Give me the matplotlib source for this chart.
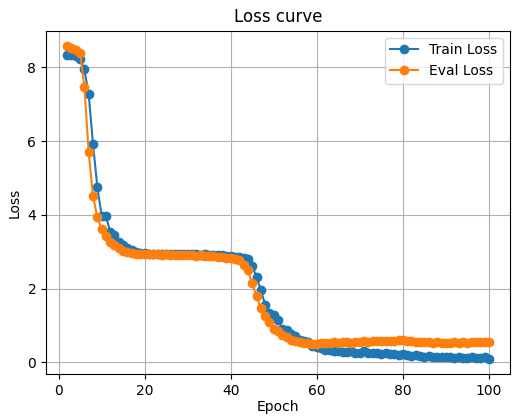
import numpy as np
import matplotlib.pyplot as plt

epochs = list(range(2, 101))

train_loss = [
    8.35, 8.33, 8.30, 8.22, 7.95, 7.27, 5.93, 4.77, 3.98,          # 2-10
    3.96, 3.55, 3.45, 3.28, 3.18, 3.10, 3.04, 3.00, 2.97, 2.96,    # 11-20
    2.95, 2.95, 2.94, 2.95, 2.94, 2.94, 2.93, 2.94, 2.93, 2.93,    # 21-30
    2.93, 2.93, 2.92, 2.93, 2.92, 2.92, 2.91, 2.91, 2.90, 2.88,    # 31-40
    2.87, 2.85, 2.84, 2.80, 2.62, 2.32, 1.97, 1.57, 1.35, 1.30,    # 41-50
    1.16, 0.90, 0.88, 0.76, 0.72, 0.60, 0.58, 0.55, 0.45, 0.42,    # 51-60
    0.40, 0.35, 0.33, 0.31, 0.32, 0.29, 0.28, 0.30, 0.27, 0.27,    # 61-70
    0.30, 0.26, 0.25, 0.27, 0.24, 0.25, 0.22, 0.24, 0.21, 0.22,    # 71-80
    0.19, 0.18, 0.19, 0.17, 0.16, 0.17, 0.15, 0.16, 0.14, 0.15,    # 81-90
    0.14, 0.13, 0.15, 0.13, 0.12, 0.14, 0.12, 0.13, 0.14, 0.10,    # 91-100
]

eval_loss = [
    8.57, 8.52, 8.47, 8.40, 7.47, 5.70, 4.52, 3.94, 3.62,          # 2-10
    3.43, 3.28, 3.18, 3.10, 3.03, 2.99, 2.96, 2.95, 2.94, 2.94,    # 11-20
    2.93, 2.93, 2.93, 2.92, 2.93, 2.92, 2.92, 2.91, 2.91, 2.91,    # 21-30
    2.91, 2.90, 2.91, 2.90, 2.90, 2.89, 2.87, 2.86, 2.84, 2.82,    # 31-40
    2.80, 2.77, 2.65, 2.50, 2.15, 1.79, 1.48, 1.25, 1.10, 0.92,    # 41-50
    0.85, 0.75, 0.68, 0.62, 0.58, 0.56, 0.54, 0.52, 0.50, 0.49,    # 51-60
    0.52, 0.54, 0.53, 0.55, 0.54, 0.56, 0.55, 0.54, 0.56, 0.55,    # 61-70
    0.57, 0.56, 0.58, 0.57, 0.59, 0.58, 0.57, 0.59, 0.60, 0.62,    # 71-80
    0.59, 0.57, 0.56, 0.55, 0.56, 0.55, 0.54, 0.55, 0.54, 0.53,    # 81-90
    0.54, 0.55, 0.54, 0.55, 0.54, 0.55, 0.56, 0.55, 0.56, 0.55,    # 91-100
]

fig, ax = plt.subplots(figsize=(5.12, 4.16), dpi=100)
ax.plot(epochs, train_loss, marker='o', label="Train Loss")
ax.plot(epochs, eval_loss, marker='o', label="Eval Loss")
ax.set_xlabel("Epoch", labelpad=1)
ax.set_ylabel("Loss")
ax.set_title("Loss curve")
ax.grid(True)
ax.legend(loc='upper right')
fig.subplots_adjust(left=0.09, right=0.996, top=0.926, bottom=0.1)
fig.savefig('out.png')
